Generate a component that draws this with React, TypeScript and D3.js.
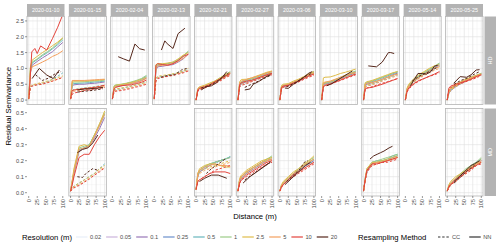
import React from 'react';
import * as d3 from 'd3';

const width = 500;
const height = 246;
const font = 'Liberation Sans, Arial, Helvetica, sans-serif';

const dates = ['2020-01-10', '2020-01-15', '2020-02-04', '2020-02-13', '2020-02-21', '2020-02-27',
  '2020-03-06', '2020-03-10', '2020-03-17', '2020-05-14', '2020-05-25'];
const sites = ['HD', 'MD'];
const resolutions = ['0.02', '0.05', '0.1', '0.25', '0.5', '1', '2.5', '5', '10', '20'];
const resColors = ['#e8eef9', '#ccb5dd', '#9877b7', '#6c8fcb', '#68b6bd', '#9ccb88', '#dfbd4b', '#f3a060', '#e3443c', '#55271b'];
const methods = ['CC', 'NN'];
const lags = [0, 5, 10, 25, 40, 55, 70, 85, 100];
const xBreaks = [0, 25, 50, 75, 100];
const yBreaksHD = [0, 0.5, 1, 1.5, 2, 2.5];
const yBreaksMD = [0, 0.1, 0.2, 0.3, 0.4, 0.5];

// [method, resolution, semivariance values, lags if not the common ones]
type Line = [string, string, string, string?];

const hd0110: Line[] = [
  ['CC', '0.5', '0.03 0.40 0.46 0.50 0.53 0.58 0.66 0.75 0.86'],
  ['CC', '2.5', '0.03 0.45 0.48 0.52 0.56 0.60 0.65 0.71 0.76'],
  ['CC', '5', '0.03 0.42 0.46 0.50 0.53 0.56 0.60 0.66 0.70'],
  ['CC', '10', '0.03 0.38 0.44 0.48 0.50 0.55 0.60 0.66 0.72'],
  ['CC', '20', '0.80 0.62 0.70 0.85 0.90', '20 40 60 80 95'],
  ['NN', '0.1', '0.10 0.85 1.10 1.22 1.33 1.43 1.53 1.68 1.82'],
  ['NN', '0.5', '0.05 0.95 1.17 1.28 1.40 1.50 1.62 1.75 1.90'],
  ['NN', '1', '0.05 1.00 1.20 1.30 1.43 1.53 1.65 1.80 1.95'],
  ['NN', '2.5', '0.05 1.05 1.26 1.38 1.50 1.60 1.72 1.83 1.97'],
  ['NN', '5', '0.05 0.90 1.05 1.12 1.20 1.28 1.38 1.45 1.56'],
  ['NN', '10', '0.10 1.52 1.63 1.47 1.71 1.58 1.95 2.30 2.70', '1 9 18 25 35 53 70 85 100'],
  ['NN', '20', '0.68 1.00 0.79 0.68 0.95', '10 31 53 72 90'],
];
const hd0115: Line[] = [
  ['CC', '0.5', '0.03 0.30 0.33 0.36 0.38 0.40 0.42 0.45 0.47'],
  ['CC', '2.5', '0.03 0.30 0.32 0.35 0.37 0.39 0.41 0.43 0.45'],
  ['CC', '5', '0.03 0.25 0.28 0.30 0.32 0.35 0.37 0.40 0.42'],
  ['CC', '10', '0.03 0.18 0.22 0.26 0.30 0.32 0.35 0.37 0.40'],
  ['CC', '20', '0.25 0.28 0.30 0.33 0.36', '20 40 60 80 95'],
  ['NN', '0.1', '0.05 0.45 0.48 0.50 0.50 0.52 0.53 0.55 0.57'],
  ['NN', '0.5', '0.05 0.50 0.52 0.53 0.54 0.55 0.57 0.58 0.60'],
  ['NN', '1', '0.05 0.55 0.57 0.57 0.58 0.59 0.60 0.61 0.63'],
  ['NN', '2.5', '0.05 0.60 0.60 0.60 0.60 0.61 0.62 0.63 0.65'],
  ['NN', '5', '0.05 0.62 0.62 0.62 0.62 0.63 0.64 0.65 0.66'],
  ['NN', '10', '0.05 0.30 0.32 0.34 0.36 0.38 0.40 0.43 0.47'],
  ['NN', '20', '0.32 0.35 0.36 0.38 0.40', '20 40 60 80 95'],
];
const hd0204: Line[] = [
  ['CC', '0.5', '0.03 0.30 0.33 0.36 0.40 0.44 0.48 0.52 0.58'],
  ['CC', '2.5', '0.03 0.32 0.35 0.38 0.41 0.44 0.48 0.52 0.57'],
  ['CC', '5', '0.03 0.28 0.30 0.33 0.36 0.40 0.44 0.48 0.53'],
  ['CC', '10', '0.03 0.26 0.28 0.30 0.33 0.37 0.41 0.45 0.50'],
  ['NN', '0.1', '0.05 0.38 0.42 0.45 0.48 0.52 0.56 0.62 0.70'],
  ['NN', '0.5', '0.05 0.42 0.46 0.48 0.52 0.56 0.60 0.66 0.75'],
  ['NN', '1', '0.05 0.45 0.48 0.50 0.53 0.57 0.62 0.68 0.78'],
  ['NN', '2.5', '0.05 0.43 0.47 0.49 0.52 0.55 0.60 0.65 0.72'],
  ['NN', '5', '0.05 0.40 0.43 0.45 0.48 0.52 0.56 0.60 0.68'],
  ['NN', '10', '0.05 0.35 0.40 0.45 0.47 0.48 0.52 0.56 0.63'],
  ['NN', '20', '1.37 1.30 1.23 1.77 1.62 1.58', '17 33 50 66 80 95'],
];
const hd0213: Line[] = [
  ['CC', '0.5', '0.03 0.68 0.72 0.75 0.78 0.82 0.86 0.90 0.98'],
  ['CC', '2.5', '0.03 0.70 0.75 0.78 0.80 0.83 0.86 0.92 1.00'],
  ['CC', '5', '0.03 0.65 0.70 0.73 0.76 0.80 0.84 0.88 0.95'],
  ['CC', '10', '0.03 0.60 0.68 0.72 0.75 0.78 0.82 0.86 0.92'],
  ['CC', '20', '0.72 0.78 0.80 0.95 1.00', '20 40 60 80 95'],
  ['NN', '0.1', '0.05 0.95 1.05 1.07 1.10 1.12 1.20 1.30 1.45'],
  ['NN', '0.5', '0.05 1.05 1.10 1.12 1.15 1.18 1.25 1.38 1.52'],
  ['NN', '1', '0.05 1.10 1.12 1.14 1.16 1.20 1.28 1.40 1.55'],
  ['NN', '2.5', '0.05 1.12 1.15 1.15 1.17 1.20 1.30 1.42 1.50'],
  ['NN', '5', '0.05 1.00 1.08 1.10 1.12 1.15 1.22 1.32 1.45'],
  ['NN', '10', '0.05 1.10 1.15 1.12 1.10 1.15 1.25 1.38 1.45'],
  ['NN', '20', '1.58 1.87 1.78 1.63 2.10 2.27', '21 31 38 55 70 90'],
];
const hd0221: Line[] = [
  ['CC', '0.5', '0.00 0.30 0.35 0.40 0.47 0.55 0.63 0.72 0.82'],
  ['CC', '2.5', '0.00 0.32 0.36 0.41 0.48 0.56 0.64 0.74 0.83'],
  ['CC', '5', '0.00 0.30 0.34 0.40 0.46 0.54 0.62 0.72 0.80'],
  ['CC', '10', '0.00 0.28 0.33 0.38 0.45 0.52 0.60 0.70 0.78'],
  ['CC', '20', '0.38 0.45 0.55 0.70 0.85', '15 35 55 75 95'],
  ['NN', '0.1', '0.00 0.30 0.36 0.40 0.47 0.55 0.65 0.75 0.85'],
  ['NN', '0.5', '0.00 0.33 0.38 0.42 0.50 0.58 0.68 0.78 0.88'],
  ['NN', '1', '0.00 0.35 0.40 0.45 0.52 0.60 0.70 0.80 0.90'],
  ['NN', '2.5', '0.00 0.37 0.42 0.47 0.54 0.60 0.70 0.80 0.87'],
  ['NN', '5', '0.00 0.35 0.40 0.44 0.50 0.57 0.67 0.76 0.85'],
  ['NN', '10', '0.00 0.32 0.37 0.42 0.48 0.58 0.66 0.75 0.83'],
  ['NN', '20', '0.32 0.42 0.45 0.55 0.70 0.90', '15 30 45 60 75 90'],
];
const hd0227: Line[] = [
  ['CC', '0.5', '0.00 0.45 0.50 0.55 0.60 0.65 0.72 0.78 0.84'],
  ['CC', '2.5', '0.00 0.50 0.55 0.60 0.64 0.70 0.76 0.82 0.87'],
  ['CC', '5', '0.00 0.45 0.50 0.55 0.60 0.66 0.72 0.78 0.83'],
  ['CC', '10', '0.00 0.42 0.46 0.52 0.58 0.64 0.70 0.76 0.80'],
  ['CC', '20', '0.40 0.50 0.60 0.70 0.78', '20 40 60 80 95'],
  ['NN', '0.1', '0.00 0.45 0.52 0.58 0.63 0.68 0.75 0.80 0.85'],
  ['NN', '0.5', '0.00 0.50 0.56 0.62 0.66 0.72 0.78 0.84 0.90'],
  ['NN', '1', '0.00 0.52 0.58 0.64 0.68 0.74 0.80 0.86 0.90'],
  ['NN', '2.5', '0.00 0.58 0.65 0.66 0.70 0.76 0.82 0.88 0.92'],
  ['NN', '5', '0.00 0.55 0.60 0.65 0.70 0.75 0.80 0.86 0.90'],
  ['NN', '10', '0.00 0.48 0.55 0.60 0.62 0.68 0.74 0.80 0.85'],
  ['NN', '20', '0.32 0.35 0.50 0.58 0.72 0.80', '20 35 45 60 80 95'],
];
const hd0306: Line[] = [
  ['CC', '0.5', '0.00 0.38 0.42 0.46 0.52 0.60 0.68 0.76 0.84'],
  ['CC', '2.5', '0.00 0.40 0.44 0.48 0.55 0.62 0.70 0.78 0.85'],
  ['CC', '5', '0.00 0.38 0.42 0.46 0.52 0.60 0.68 0.75 0.82'],
  ['CC', '10', '0.00 0.36 0.40 0.44 0.50 0.57 0.65 0.72 0.78'],
  ['CC', '20', '0.42 0.52 0.65 0.78 0.85', '20 40 60 80 95'],
  ['NN', '0.1', '0.00 0.38 0.42 0.46 0.53 0.60 0.68 0.77 0.85'],
  ['NN', '0.5', '0.00 0.42 0.45 0.48 0.55 0.62 0.70 0.80 0.88'],
  ['NN', '1', '0.00 0.44 0.47 0.50 0.57 0.64 0.72 0.82 0.90'],
  ['NN', '2.5', '0.00 0.46 0.50 0.52 0.60 0.66 0.74 0.83 0.90'],
  ['NN', '5', '0.00 0.42 0.46 0.49 0.56 0.63 0.72 0.80 0.86'],
  ['NN', '10', '0.00 0.40 0.44 0.47 0.54 0.60 0.68 0.76 0.82'],
  ['NN', '20', '0.38 0.37 0.50 0.60 0.72 0.85 0.90', '15 25 40 55 70 85 95'],
];
const hd0310: Line[] = [
  ['CC', '0.5', '0.00 0.45 0.50 0.54 0.60 0.67 0.74 0.80 0.86'],
  ['CC', '2.5', '0.00 0.50 0.55 0.58 0.64 0.70 0.76 0.82 0.88'],
  ['CC', '5', '0.00 0.46 0.50 0.54 0.60 0.66 0.72 0.78 0.84'],
  ['CC', '10', '0.00 0.42 0.46 0.50 0.56 0.62 0.68 0.74 0.80'],
  ['NN', '0.1', '0.00 0.45 0.50 0.53 0.60 0.67 0.74 0.80 0.86'],
  ['NN', '0.5', '0.00 0.50 0.53 0.56 0.63 0.70 0.77 0.84 0.90'],
  ['NN', '1', '0.00 0.52 0.55 0.58 0.65 0.72 0.79 0.86 0.92'],
  ['NN', '2.5', '0.00 0.70 0.72 0.73 0.78 0.84 0.88 0.93 0.98'],
  ['NN', '5', '0.00 0.55 0.57 0.60 0.66 0.72 0.78 0.84 0.88'],
  ['NN', '10', '0.00 0.42 0.46 0.50 0.57 0.63 0.70 0.76 0.82'],
  ['NN', '20', '0.45 0.52 0.62 0.72 0.82 0.92', '15 30 45 60 75 90'],
];
const hd0317: Line[] = [
  ['CC', '0.5', '0.00 0.42 0.46 0.50 0.56 0.62 0.68 0.75 0.80'],
  ['CC', '2.5', '0.00 0.45 0.48 0.52 0.58 0.64 0.70 0.77 0.82'],
  ['CC', '5', '0.00 0.40 0.44 0.48 0.54 0.60 0.66 0.72 0.77'],
  ['CC', '10', '0.00 0.35 0.38 0.42 0.48 0.53 0.58 0.63 0.68'],
  ['NN', '0.1', '0.00 0.45 0.50 0.55 0.60 0.66 0.72 0.80 0.85'],
  ['NN', '0.5', '0.00 0.50 0.54 0.58 0.64 0.70 0.76 0.83 0.88'],
  ['NN', '1', '0.00 0.52 0.56 0.60 0.66 0.72 0.78 0.85 0.90'],
  ['NN', '2.5', '0.00 0.55 0.58 0.62 0.68 0.74 0.80 0.86 0.90'],
  ['NN', '5', '0.00 0.50 0.53 0.56 0.60 0.66 0.72 0.78 0.82'],
  ['NN', '10', '0.00 0.35 0.38 0.40 0.45 0.50 0.56 0.62 0.68'],
  ['NN', '20', '1.08 1.05 1.20 1.50 1.50 1.47', '14 38 55 73 80 90'],
];
const hd0514: Line[] = [
  ['CC', '0.5', '0.00 0.30 0.42 0.58 0.70 0.80 0.90 0.98 1.06'],
  ['CC', '2.5', '0.00 0.32 0.44 0.60 0.72 0.82 0.92 1.00 1.08'],
  ['CC', '5', '0.00 0.30 0.40 0.56 0.68 0.78 0.86 0.94 1.00'],
  ['CC', '10', '0.00 0.25 0.35 0.50 0.60 0.68 0.75 0.80 0.86'],
  ['CC', '20', '0.60 0.75 0.85 0.95 1.05', '20 40 60 80 95'],
  ['NN', '0.1', '0.00 0.30 0.42 0.60 0.72 0.82 0.92 1.02 1.10'],
  ['NN', '0.5', '0.00 0.35 0.45 0.63 0.75 0.85 0.95 1.05 1.15'],
  ['NN', '1', '0.00 0.35 0.47 0.65 0.77 0.87 0.97 1.07 1.17'],
  ['NN', '2.5', '0.00 0.38 0.50 0.68 0.80 0.90 1.00 1.08 1.12'],
  ['NN', '5', '0.00 0.33 0.45 0.60 0.72 0.82 0.92 1.00 1.05'],
  ['NN', '10', '0.00 0.28 0.38 0.52 0.62 0.68 0.75 0.82 0.90'],
  ['NN', '20', '0.45 0.58 0.84 0.84 0.82 0.90 1.07 1.10', '15 22 37 50 62 75 85 95'],
];
const hd0525: Line[] = [
  ['CC', '0.5', '0.00 0.22 0.30 0.42 0.52 0.60 0.67 0.74 0.80'],
  ['CC', '2.5', '0.00 0.24 0.32 0.44 0.54 0.62 0.69 0.75 0.82'],
  ['CC', '5', '0.00 0.22 0.30 0.42 0.52 0.60 0.66 0.73 0.80'],
  ['CC', '10', '0.00 0.35 0.40 0.46 0.52 0.58 0.64 0.70 0.78'],
  ['CC', '20', '0.50 0.62 0.70 0.82 0.90', '20 40 60 80 95'],
  ['NN', '0.1', '0.00 0.22 0.30 0.42 0.52 0.60 0.68 0.75 0.82'],
  ['NN', '0.5', '0.00 0.25 0.33 0.45 0.55 0.63 0.70 0.77 0.84'],
  ['NN', '1', '0.00 0.27 0.35 0.47 0.57 0.65 0.72 0.78 0.85'],
  ['NN', '2.5', '0.00 0.30 0.38 0.50 0.58 0.66 0.72 0.78 0.83'],
  ['NN', '5', '0.00 0.28 0.36 0.48 0.56 0.63 0.70 0.76 0.82'],
  ['NN', '10', '0.00 0.38 0.44 0.50 0.55 0.60 0.66 0.74 0.80'],
  ['NN', '20', '0.53 0.74 0.72 0.80 0.95 0.96', '19 38 57 70 85 95'],
];

const md0115: Line[] = [
  ['CC', '0.5', '0.01 0.03 0.04 0.06 0.08 0.10 0.12 0.15 0.18'],
  ['CC', '2.5', '0.01 0.03 0.04 0.06 0.08 0.10 0.12 0.15 0.17'],
  ['CC', '5', '0.01 0.03 0.035 0.05 0.07 0.09 0.11 0.14 0.16'],
  ['CC', '10', '0.01 0.02 0.03 0.045 0.065 0.085 0.11 0.13 0.155'],
  ['CC', '20', '0.10 0.095 0.12 0.15 0.14', '20 35 45 65 80'],
  ['NN', '0.1', '0.01 0.06 0.12 0.26 0.28 0.29 0.34 0.40 0.47'],
  ['NN', '0.5', '0.01 0.07 0.13 0.27 0.28 0.30 0.36 0.42 0.49'],
  ['NN', '1', '0.01 0.07 0.14 0.28 0.29 0.30 0.36 0.43 0.50'],
  ['NN', '2.5', '0.01 0.08 0.15 0.29 0.30 0.29 0.36 0.43 0.51'],
  ['NN', '5', '0.01 0.07 0.13 0.27 0.28 0.29 0.35 0.42 0.49'],
  ['NN', '10', '0.01 0.05 0.10 0.22 0.24 0.24 0.30 0.35 0.39'],
  ['NN', '20', '0.25 0.27 0.28 0.31 0.36', '20 35 51 65 80'],
];
const md0221: Line[] = [
  ['CC', '0.5', '0.02 0.10 0.13 0.15 0.17 0.18 0.20 0.21 0.225'],
  ['CC', '2.5', '0.02 0.11 0.13 0.15 0.16 0.17 0.18 0.19 0.20'],
  ['CC', '5', '0.02 0.10 0.12 0.14 0.15 0.16 0.17 0.18 0.19'],
  ['CC', '10', '0.02 0.07 0.08 0.10 0.12 0.14 0.15 0.16 0.17'],
  ['CC', '20', '0.12 0.15 0.18 0.21', '30 45 65 85'],
  ['NN', '0.1', '0.02 0.10 0.13 0.15 0.17 0.19 0.20 0.21 0.22'],
  ['NN', '0.5', '0.02 0.11 0.14 0.16 0.18 0.19 0.20 0.21 0.225'],
  ['NN', '1', '0.02 0.12 0.14 0.165 0.18 0.19 0.20 0.21 0.22'],
  ['NN', '2.5', '0.02 0.12 0.15 0.17 0.18 0.18 0.17 0.16 0.16'],
  ['NN', '5', '0.02 0.12 0.14 0.16 0.17 0.18 0.17 0.17 0.165'],
  ['NN', '10', '0.02 0.07 0.08 0.10 0.12 0.13 0.13 0.13 0.12'],
  ['NN', '20', '0.07 0.09 0.11 0.11 0.09', '10 25 45 65 90'],
];
const md0227: Line[] = [
  ['CC', '0.5', '0.01 0.07 0.09 0.12 0.14 0.16 0.18 0.20 0.21'],
  ['CC', '2.5', '0.01 0.08 0.10 0.13 0.15 0.17 0.19 0.20 0.22'],
  ['CC', '5', '0.01 0.07 0.09 0.12 0.14 0.16 0.18 0.19 0.20'],
  ['CC', '10', '0.01 0.06 0.08 0.10 0.12 0.14 0.16 0.18 0.19'],
  ['CC', '20', '0.08 0.11 0.14 0.17 0.19', '20 40 60 80 95'],
  ['NN', '0.1', '0.01 0.07 0.09 0.12 0.14 0.16 0.18 0.20 0.21'],
  ['NN', '0.5', '0.01 0.08 0.10 0.13 0.15 0.17 0.19 0.21 0.22'],
  ['NN', '1', '0.01 0.08 0.10 0.13 0.15 0.17 0.19 0.21 0.23'],
  ['NN', '2.5', '0.01 0.09 0.11 0.14 0.16 0.18 0.20 0.21 0.22'],
  ['NN', '5', '0.01 0.08 0.10 0.13 0.15 0.17 0.19 0.20 0.21'],
  ['NN', '10', '0.01 0.06 0.08 0.11 0.13 0.15 0.17 0.19 0.20'],
  ['NN', '20', '0.06 0.10 0.13 0.16 0.19', '15 35 55 75 95'],
];
const md0306: Line[] = [
  ['CC', '0.5', '0.01 0.04 0.05 0.08 0.11 0.13 0.16 0.18 0.20'],
  ['CC', '2.5', '0.01 0.04 0.06 0.09 0.12 0.14 0.17 0.19 0.21'],
  ['CC', '5', '0.01 0.04 0.05 0.08 0.11 0.13 0.15 0.17 0.19'],
  ['CC', '10', '0.01 0.03 0.05 0.08 0.10 0.12 0.14 0.16 0.18'],
  ['CC', '20', '0.07 0.11 0.15 0.19 0.20', '20 40 60 72 82'],
  ['NN', '0.1', '0.01 0.04 0.05 0.08 0.11 0.13 0.16 0.18 0.20'],
  ['NN', '0.5', '0.01 0.04 0.06 0.09 0.12 0.14 0.17 0.19 0.21'],
  ['NN', '1', '0.01 0.05 0.06 0.09 0.12 0.15 0.17 0.20 0.22'],
  ['NN', '2.5', '0.01 0.05 0.07 0.10 0.13 0.15 0.18 0.20 0.23'],
  ['NN', '5', '0.01 0.04 0.06 0.09 0.12 0.14 0.17 0.19 0.21'],
  ['NN', '10', '0.01 0.04 0.05 0.08 0.11 0.13 0.15 0.17 0.19'],
  ['NN', '20', '0.05 0.09 0.13 0.17 0.19', '15 35 55 75 90'],
];
const md0317: Line[] = [
  ['CC', '0.5', '0.01 0.08 0.13 0.18 0.19 0.20 0.21 0.22 0.23'],
  ['CC', '2.5', '0.01 0.08 0.14 0.18 0.19 0.20 0.20 0.21 0.22'],
  ['CC', '5', '0.01 0.08 0.13 0.17 0.18 0.19 0.20 0.21 0.22'],
  ['CC', '10', '0.01 0.08 0.13 0.17 0.18 0.19 0.19 0.20 0.21'],
  ['NN', '0.1', '0.01 0.08 0.13 0.18 0.19 0.19 0.20 0.22 0.23'],
  ['NN', '0.5', '0.01 0.09 0.14 0.19 0.20 0.20 0.21 0.23 0.24'],
  ['NN', '1', '0.01 0.09 0.15 0.19 0.20 0.21 0.22 0.23 0.24'],
  ['NN', '2.5', '0.01 0.09 0.15 0.19 0.19 0.20 0.21 0.22 0.23'],
  ['NN', '5', '0.01 0.08 0.14 0.18 0.19 0.19 0.20 0.21 0.22'],
  ['NN', '10', '0.01 0.08 0.14 0.18 0.18 0.19 0.20 0.21 0.22'],
  ['NN', '20', '0.21 0.23 0.24 0.25 0.26 0.28 0.29', '19 30 40 50 60 75 85'],
];
const md0525: Line[] = [
  ['CC', '0.5', '0.01 0.03 0.05 0.08 0.10 0.13 0.15 0.18 0.20'],
  ['CC', '2.5', '0.01 0.04 0.05 0.08 0.11 0.13 0.16 0.18 0.21'],
  ['CC', '5', '0.01 0.03 0.05 0.07 0.10 0.12 0.15 0.17 0.19'],
  ['CC', '10', '0.01 0.03 0.05 0.07 0.10 0.12 0.14 0.17 0.18'],
  ['CC', '20', '0.06 0.10 0.14 0.17', '20 40 60 80'],
  ['NN', '0.1', '0.01 0.04 0.05 0.08 0.11 0.13 0.16 0.18 0.20'],
  ['NN', '0.5', '0.01 0.04 0.06 0.09 0.12 0.14 0.17 0.19 0.21'],
  ['NN', '1', '0.01 0.05 0.06 0.09 0.12 0.15 0.17 0.19 0.22'],
  ['NN', '2.5', '0.01 0.05 0.07 0.10 0.12 0.14 0.16 0.18 0.19'],
  ['NN', '5', '0.01 0.04 0.06 0.09 0.11 0.14 0.16 0.18 0.20'],
  ['NN', '10', '0.01 0.04 0.05 0.08 0.10 0.13 0.15 0.17 0.19'],
  ['NN', '20', '0.07 0.10 0.13 0.15 0.17 0.18 0.20', '20 35 50 60 70 80 95'],
];

const panels: { date: string; site: string; lines: Line[] }[] = [
  { date: '2020-01-10', site: 'HD', lines: hd0110 },
  { date: '2020-01-15', site: 'HD', lines: hd0115 },
  { date: '2020-02-04', site: 'HD', lines: hd0204 },
  { date: '2020-02-13', site: 'HD', lines: hd0213 },
  { date: '2020-02-21', site: 'HD', lines: hd0221 },
  { date: '2020-02-27', site: 'HD', lines: hd0227 },
  { date: '2020-03-06', site: 'HD', lines: hd0306 },
  { date: '2020-03-10', site: 'HD', lines: hd0310 },
  { date: '2020-03-17', site: 'HD', lines: hd0317 },
  { date: '2020-05-14', site: 'HD', lines: hd0514 },
  { date: '2020-05-25', site: 'HD', lines: hd0525 },
  { date: '2020-01-15', site: 'MD', lines: md0115 },
  { date: '2020-02-21', site: 'MD', lines: md0221 },
  { date: '2020-02-27', site: 'MD', lines: md0227 },
  { date: '2020-03-06', site: 'MD', lines: md0306 },
  { date: '2020-03-17', site: 'MD', lines: md0317 },
  { date: '2020-05-25', site: 'MD', lines: md0525 },
];

// layout
const plotLeft = 27;
const panelW = 37.5;
const colGap = 4.35;
const stripTop = 4;
const stripH = 12.5;
const rowTop = [16.5, 108.5];
const rowBottom = [104.5, 196];
const rightStripX = 484.5;
const rightStripW = 11.5;
const yDomains = [[-0.14, 2.64], [-0.0206, 0.526]];
const yBreaks = [yBreaksHD, yBreaksMD];
const yFormat = d3.format('.1f');

const nums = (s: string) => s.trim().split(/\s+/).map(Number);
const colX = (i: number) => plotLeft + i * (panelW + colGap);
const midpoints = (b: number[]) => {
  const step = b[1] - b[0];
  return d3.range(b[0] - step / 2, b[b.length - 1] + step, step);
};

const cw: Record<string, number> = { '.': 0.278, C: 0.722, N: 0.722 };
const textW = (s: string, fs: number) => s.split('').reduce((a, c) => a + (cw[c] ?? 0.556), 0) * fs;

const gridMajor = '#dedede';
const gridMinor = '#ebebeb';
const borderCol = '#b3b3b3';
const tickText = '#4d4d4d';

const Panel = ({ col, row, lines, id }: { col: number; row: number; lines: Line[]; id: string }) => {
  const x0 = colX(col);
  const xScale = d3.scaleLinear().domain([-5, 105]).range([x0, x0 + panelW]);
  const yScale = d3.scaleLinear().domain(yDomains[row]).range([rowBottom[row], rowTop[row]]);
  const [y0, y1] = yDomains[row];
  const xMinor = midpoints(xBreaks).filter(v => v > -5 && v < 105);
  const yMinor = midpoints(yBreaks[row]).filter(v => v > y0 && v < y1);
  const gen = d3.line<[number, number]>().x(d => xScale(d[0])).y(d => yScale(d[1]));
  const sorted = [...lines].sort((a, b) =>
    resolutions.indexOf(a[1]) - resolutions.indexOf(b[1]) || methods.indexOf(a[0]) - methods.indexOf(b[0]));
  const h = rowBottom[row] - rowTop[row];
  return (
    <g>
      <clipPath id={id}>
        <rect x={x0} y={rowTop[row]} width={panelW} height={h} />
      </clipPath>
      <rect x={x0} y={rowTop[row]} width={panelW} height={h} fill="#fff" />
      {xMinor.map(v => <line key={'xm' + v} x1={xScale(v)} x2={xScale(v)} y1={rowTop[row]} y2={rowBottom[row]} stroke={gridMinor} strokeWidth={0.35} />)}
      {yMinor.map(v => <line key={'ym' + v} x1={x0} x2={x0 + panelW} y1={yScale(v)} y2={yScale(v)} stroke={gridMinor} strokeWidth={0.35} />)}
      {xBreaks.map(v => <line key={'x' + v} x1={xScale(v)} x2={xScale(v)} y1={rowTop[row]} y2={rowBottom[row]} stroke={gridMajor} strokeWidth={0.6} />)}
      {yBreaks[row].map(v => <line key={'y' + v} x1={x0} x2={x0 + panelW} y1={yScale(v)} y2={yScale(v)} stroke={gridMajor} strokeWidth={0.6} />)}
      <g clipPath={`url(#${id})`}>
        {sorted.map((l, i) => {
          const ys = nums(l[2]);
          const xs = l[3] ? nums(l[3]) : lags;
          const pts = xs.map((x, k) => [x, ys[k]] as [number, number]);
          return (
            <path key={i} d={gen(pts) ?? ''} fill="none"
              stroke={resColors[resolutions.indexOf(l[1])]} strokeWidth={1}
              strokeDasharray={l[0] === 'CC' ? '2.4,1.8' : undefined} />
          );
        })}
      </g>
      <rect x={x0} y={rowTop[row]} width={panelW} height={h} fill="none" stroke={borderCol} strokeWidth={0.8} />
    </g>
  );
};

const Legend = () => {
  const y = 237;
  const fsT = 7.7;
  const fsL = 5.7;
  let k = 76;
  const resItems = resolutions.map((r, i) => {
    const item = { r, color: resColors[i], x: k };
    k += 11.5 + 2.5 + textW(r, fsL) + 5;
    return item;
  });
  let m = 438;
  const methodItems = methods.map(mt => {
    const item = { mt, x: m };
    m += 11.5 + 2.5 + textW(mt, fsL) + 9;
    return item;
  });
  return (
    <g fontFamily={font}>
      <text x={22} y={y + 2.7} fontSize={fsT} fill="#000">Resolution (m)</text>
      {resItems.map(d => (
        <g key={d.r}>
          <line x1={d.x} x2={d.x + 11.5} y1={y} y2={y} stroke={d.color} strokeWidth={1.2} />
          <text x={d.x + 14} y={y + 2} fontSize={fsL} fill={tickText}>{d.r}</text>
        </g>
      ))}
      <text x={358} y={y + 2.7} fontSize={fsT} fill="#000">Resampling Method</text>
      {methodItems.map(d => (
        <g key={d.mt}>
          <line x1={d.x} x2={d.x + 11.5} y1={y} y2={y} stroke="#333" strokeWidth={1.2}
            strokeDasharray={d.mt === 'CC' ? '2.4,1.8' : undefined} />
          <text x={d.x + 14} y={y + 2} fontSize={fsL} fill={tickText}>{d.mt}</text>
        </g>
      ))}
    </g>
  );
};

export default function App() {
  const xAxisY = rowBottom[1];
  return (
    <svg width={width} height={height} style={{ position: 'absolute', left: 0, top: 0, background: '#fff' }}
      fontFamily={font}>
      <rect width={width} height={height} fill="#fff" />
      {dates.map((d, i) => (
        <g key={d}>
          <rect x={colX(i)} y={stripTop} width={panelW} height={stripH} fill={borderCol} />
          <text x={colX(i) + panelW / 2} y={stripTop + stripH / 2} dy="0.35em" textAnchor="middle"
            fontSize={5.4} fill="#fff">{d}</text>
        </g>
      ))}
      {sites.map((s, r) => {
        const cy = (rowTop[r] + rowBottom[r]) / 2;
        const cx = rightStripX + rightStripW / 2;
        return (
          <g key={s}>
            <rect x={rightStripX} y={rowTop[r]} width={rightStripW} height={rowBottom[r] - rowTop[r]} fill={borderCol} />
            <text transform={`translate(${cx},${cy}) rotate(-90)`} textAnchor="middle" dy="0.35em"
              fontSize={5.4} fill="#fff">{s}</text>
          </g>
        );
      })}
      {panels.map((p, i) => (
        <Panel key={i} id={`clip-${i}`} col={dates.indexOf(p.date)} row={sites.indexOf(p.site)} lines={p.lines} />
      ))}
      {sites.map((s, r) => {
        const yScale = d3.scaleLinear().domain(yDomains[r]).range([rowBottom[r], rowTop[r]]);
        return (
          <g key={'ya' + s}>
            {yBreaks[r].map(v => (
              <g key={v}>
                <line x1={plotLeft - 2} x2={plotLeft} y1={yScale(v)} y2={yScale(v)} stroke="#333" strokeWidth={0.5} />
                <text x={plotLeft - 3} y={yScale(v)} dy="0.35em" textAnchor="end" fontSize={5.7} fill={tickText}>
                  {yFormat(v)}
                </text>
              </g>
            ))}
          </g>
        );
      })}
      {dates.map((d, i) => {
        const x0 = colX(i);
        const xScale = d3.scaleLinear().domain([-5, 105]).range([x0, x0 + panelW]);
        return (
          <g key={'xa' + d}>
            {xBreaks.map(v => (
              <g key={v}>
                <line x1={xScale(v)} x2={xScale(v)} y1={xAxisY} y2={xAxisY + 2} stroke="#333" strokeWidth={0.5} />
                <text transform={`translate(${xScale(v)},${xAxisY + 3}) rotate(-90)`} textAnchor="end" dy="0.35em"
                  fontSize={5.7} fill={tickText}>{v}</text>
              </g>
            ))}
          </g>
        );
      })}
      <text x={(plotLeft + colX(10) + panelW) / 2} y={219} textAnchor="middle" fontSize={7.7} fill="#000">Distance (m)</text>
      <text transform={`translate(10.5,${(rowTop[0] + rowBottom[1]) / 2}) rotate(-90)`} textAnchor="middle"
        fontSize={7.7} fill="#000">Residual Semivariance</text>
      <Legend />
    </svg>
  );
}
